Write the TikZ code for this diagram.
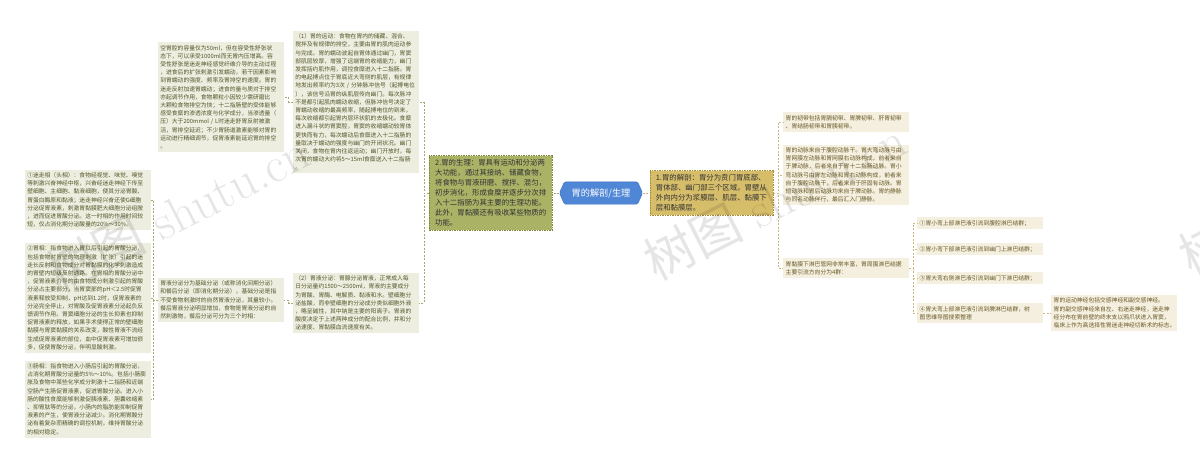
\documentclass[tikz,border=0pt]{standalone}
\usepackage{fontspec}
\usepackage{xcolor}
\usepackage{tikz}
\usetikzlibrary{positioning, backgrounds}
\newfontfamily\cjk{Noto Sans CJK SC}
\definecolor{rootfill}{HTML}{4F86D6}
\definecolor{rootline}{HTML}{3A6CC0}
\definecolor{physfill}{HTML}{AAB266}
\definecolor{physline}{HTML}{7F8838}
\definecolor{anatfill}{HTML}{D6BD6A}
\definecolor{anatline}{HTML}{A88C36}
\definecolor{lfill}{HTML}{EDEDE0}
\definecolor{rfill}{HTML}{F4EFDF}
\definecolor{ltext}{HTML}{55582A}
\definecolor{rtext}{HTML}{6A5A28}
\definecolor{lline}{HTML}{A3A874}
\definecolor{rline}{HTML}{C9B77C}
\tikzset{%
	root/.style={font=\cjk\fontsize{9.2}{11}\selectfont, text=white, inner xsep=7pt,%
		inner ysep=0pt, minimum height=22pt},
	main/.style={draw, dash pattern=on 1.5pt off 1pt, line width=0.5pt, text width=111pt,%
		align=left, inner xsep=6pt, inner ysep=4pt, font=\cjk\fontsize{7.4}{10}\selectfont},
	phys/.style={main, fill=physfill, draw=physline, text=black!80},
	anat/.style={main, fill=anatfill, draw=anatline, text=black!80},
	leaf/.style={text width=121pt, align=left, inner xsep=2.5pt, inner ysep=3pt,%
		font=\cjk\fontsize{5.8}{8.2}\selectfont},
	lleaf/.style={leaf, fill=lfill, text=ltext, anchor=east},
	rleaf/.style={leaf, fill=rfill, text=rtext, anchor=west},
	lconn/.style={draw=lline, line width=0.6pt, dash pattern=on 2pt off 1.5pt},
	rconn/.style={draw=rline, line width=0.6pt, dash pattern=on 2pt off 1.5pt},
	wmark/.style={text=black, text opacity=0.1, rotate=27, font=\fontsize{50}{50}\selectfont}
}
\begin{document}
\begin{tikzpicture}[x=1pt, y=-1pt]
	\useasboundingbox (0,0) rectangle (1200,458);

	\node[root] (root) at (601,193) {胃的解剖/生理};
	\node[phys, left=12pt of root] (phys) {2.胃的生理：胃具有运动和分泌两\\大功能，通过其接纳、储藏食物，\\将食物与胃液研磨、搅拌、混匀，\\初步消化，形成食糜并逐步分次排\\入十二指肠为其主要的生理功能。\\此外，胃黏膜还有吸收某些物质的\\功能。};
	\node[anat, right=12pt of root] (anat) {1.胃的解剖：胃分为贲门胃底部、\\胃体部、幽门部三个区域。胃壁从\\外向内分为浆膜层、肌层、黏膜下\\层和黏膜层。};

	% left side
	\node[lleaf] (motion) at (419,102) {（1）胃的运动：食物在胃内的储藏、混合、\\搅拌及有规律的排空，主要由胃的肌肉运动参\\与完成。胃的蠕动波起自胃体通过幽门，胃窦\\部肌层较厚，增强了远端胃的收缩能力，幽门\\发挥括约肌作用，调控食糜进入十二指肠。胃\\的电起搏点位于胃底近大弯侧的肌层，有规律\\地发出频率约为3次 / 分钟脉冲信号（起搏电位\\），该信号沿胃的纵肌层传向幽门。每次脉冲\\不是都引起肌肉蠕动收缩，但脉冲信号决定了\\胃蠕动收缩的最高频率，随起搏电位的到来，\\每次收缩都引起胃内层环状肌的去极化。食糜\\进入漏斗状的胃窦腔，胃窦的收缩蠕动较胃体\\更快而有力，每次蠕动后食糜进入十二指肠的\\量取决于蠕动的强度与幽门的开闭状况。幽门\\关闭，食物在胃内往返运动；幽门开放时，每\\次胃的蠕动大约将5～15ml食糜送入十二指肠\\。};
	\node[lleaf] (secretion) at (419,303) {（2）胃液分泌：胃腺分泌胃液，正常成人每\\日分泌量约1500～2500ml，胃液的主要成分\\为胃酸、胃酶、电解质、黏液和水。壁细胞分\\泌盐酸，而非壁细胞的分泌成分类似细胞外液\\，略呈碱性，其中钠是主要的阳离子。胃液的\\酸度决定于上述两种成分的配合比例，并和分\\泌速度、胃黏膜血流速度有关。};
	\node[lleaf] (empty) at (284,97) {空胃腔的容量仅为50ml，但在容受性舒张状\\态下，可以承受1000ml而无胃内压增高。容\\受性舒张是迷走神经感觉纤维介导的主动过程\\，进食后的扩张刺激引发蠕动，若干因素影响\\到胃蠕动的强度、频率及胃排空的速度。胃的\\迷走反射加速胃蠕动；进食的量与质对于排空\\亦起调节作用，食物颗粒小因较少需研磨比\\大颗粒食物排空为快；十二指肠壁的受体能够\\感受食糜的渗透浓度与化学成分，当渗透量（\\压）大于200mmol / L时迷走舒胃反射被激\\活，胃排空延迟；不少胃肠道激素能够对胃的\\运动进行精细调节，促胃液素能延迟胃的排空\\。};
	\node[lleaf] (basal) at (284,300) {胃液分泌分为基础分泌（或称消化间期分泌）\\和餐后分泌（即消化期分泌），基础分泌是指\\不受食物刺激时的自然胃液分泌，其量较小。\\餐后胃液分泌明显增加，食物是胃液分泌的自\\然刺激物，餐后分泌可分为三个时相：};
	\node[lleaf] (cephalic) at (151,200) {①迷走相（头相）：食物经视觉、味觉、嗅觉\\等刺激兴奋神经中枢，兴奋经迷走神经下传至\\壁细胞、主细胞、黏液细胞，使其分泌胃酸、\\胃蛋白酶原和黏液；迷走神经兴奋还使G细胞\\分泌促胃液素，刺激胃黏膜肥大细胞分泌组胺\\，进而促进胃酸分泌。这一时相的作用时间较\\短，仅占消化期分泌酸量的20\%～30\%。};
	\node[lleaf] (gastric) at (151,298) {②胃相：指食物进入胃以后引起的胃酸分泌，\\包括食物对胃壁的物理刺激（扩张）引起的迷\\走长反射和食物成分对胃黏膜的化学刺激造成\\的胃壁内短级反射通路。在胃相的胃酸分泌中\\，促胃液素介导的由食物成分刺激引起的胃酸\\分泌占主要部分，当胃窦部的pH＜2.5时促胃\\液素释放受抑制，pH达到1.2时，促胃液素的\\分泌完全停止，对胃酸及促胃液素分泌起负反\\馈调节作用。胃窦细胞分泌的生长抑素也抑制\\促胃液素的释放，如果手术使得正常的壁细胞\\黏膜与胃窦黏膜的关系改变，酸性胃液不流经\\生成促胃液素的部位，血中促胃液素可增加很\\多，促使胃酸分泌，伴明显酸刺激。};
	\node[lleaf] (intestinal) at (151,399) {③肠相：指食物进入小肠后引起的胃酸分泌，\\占消化期胃酸分泌量的5\%～10\%。包括小肠膨\\胀及食物中某些化学成分刺激十二指肠和近端\\空肠产生肠促胃液素，促进胃酸分泌。进入小\\肠的酸性食糜能够刺激促胰液素、胆囊收缩素\\、抑胃肽等的分泌，小肠内的脂肪能抑制促胃\\液素的产生，使胃液分泌减少。消化期胃酸分\\泌有着复杂而精确的调控机制，维持胃酸分泌\\的相对稳定。};

	% right side
	\node[rleaf] (ligament) at (783,122) {胃的韧带包括胃膈韧带、胃脾韧带、肝胃韧带\\、胃结肠韧带和胃胰韧带。};
	\node[rleaf] (artery) at (783,175) {胃的动脉来自于腹腔动脉干。胃大弯动脉弓由\\胃网膜左动脉和胃网膜右动脉构成，前者来自\\于脾动脉，后者来自于胃十二指肠动脉。胃小\\弯动脉弓由胃左动脉和胃右动脉构成，前者来\\自于腹腔动脉干，后者来自于肝固有动脉。胃\\短动脉和胃后动脉均来自于脾动脉。胃的静脉\\与同名动脉伴行，最后汇入门静脉。};
	\node[rleaf] (lymph) at (783,268) {胃黏膜下淋巴管网非常丰富，胃周围淋巴结据\\主要引流方向分为4群：};
	\node[rleaf] (lymA) at (917,223) {①胃小弯上部淋巴液引流到腹腔淋巴结群；};
	\node[rleaf] (lymB) at (917,249) {②胃小弯下部淋巴液引流到幽门上淋巴结群；};
	\node[rleaf] (lymC) at (917,278) {③胃大弯右侧淋巴液引流到幽门下淋巴结群；};
	\node[rleaf] (lymD) at (917,313) {④胃大弯上部淋巴液引流到脾淋巴结群，树\\图思维导图搜索整理};
	\node[rleaf] (nerve) at (1051,313) {胃的运动神经包括交感神经和副交感神经。\\胃的副交感神经来自左、右迷走神经，迷走神\\经分布在胃前壁的终末支以鸦爪状进入胃窦，\\临床上作为高选择性胃迷走神经切断术的标志。};

	\begin{scope}[on background layer]
		\filldraw[fill=rootfill, draw=rootline, rounded corners=1.5pt] ([xshift=-5pt]root.west) -- (root.north west) -- (root.north east) -- ([xshift=5pt]root.east) -- (root.south east) -- (root.south west) -- cycle;
	\end{scope}

	\draw[lconn] ([xshift=-5pt]root.west) -- (phys.east);
	\draw[lconn] (phys.west) -- ++(-5,0) |- (motion.east);
	\draw[lconn] (phys.west) -- ++(-5,0) |- (secretion.east);
	\draw[lconn] (motion.west) -- ++(-4,0) |- (empty.east);
	\draw[lconn] (secretion.west) -- ++(-4,0) |- (basal.east);
	\draw[lconn] (basal.west) -- ++(-4,0) |- (cephalic.east);
	\draw[lconn] (basal.west) -- ++(-4,0) |- (gastric.east);
	\draw[lconn] (basal.west) -- ++(-4,0) |- (intestinal.east);

	\draw[rconn] ([xshift=5pt]root.east) -- (anat.west);
	\draw[rconn] (anat.east) -- ++(5,0) |- (ligament.west);
	\draw[rconn] (anat.east) -- ++(5,0) |- (artery.west);
	\draw[rconn] (anat.east) -- ++(5,0) |- (lymph.west);
	\draw[rconn] (lymph.east) -- ++(4,0) |- (lymA.west);
	\draw[rconn] (lymph.east) -- ++(4,0) |- (lymB.west);
	\draw[rconn] (lymph.east) -- ++(4,0) |- (lymC.west);
	\draw[rconn] (lymph.east) -- ++(4,0) |- (lymD.west);
	\draw[rconn] (lymD.east) -- (nerve.west);

	% watermark
	\node[wmark] (wmA) at (178,212) {{\cjk 树图} shutu.cn};
	\node[wmark] (wmB) at (775,200) {{\cjk 树图} shutu.cn};
	\node[wmark] (wmC) at (1310,195) {{\cjk 树图} shutu.cn};
\end{tikzpicture}
\end{document}
